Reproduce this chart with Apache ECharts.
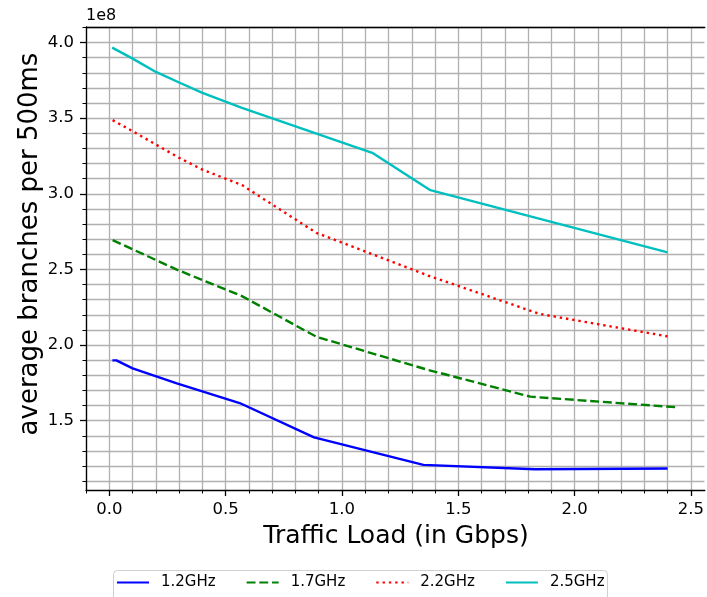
<!DOCTYPE html>
<html>
<head>
<meta charset="utf-8">
<script src="https://cdn.jsdelivr.net/npm/echarts@6/dist/echarts.min.js"></script>
<style>
html,body{margin:0;padding:0;background:#fff;overflow:hidden;}
#chart{width:707px;height:597px;}
</style>
</head>
<body>
<div id="chart"></div>
<script>
// values in units of 1e8 branches per 500ms
const seriesNames = ['1.2GHz', '1.7GHz', '2.2GHz', '2.5GHz'];
const x12 = [0.013, 0.03, 0.10, 0.29, 0.56, 0.88, 1.35, 1.83, 2.40];
const y12 = [1.899, 1.899, 1.846, 1.747, 1.617, 1.390, 1.208, 1.179, 1.184];
const x17 = [0.014, 0.29, 0.57, 0.89, 1.37, 1.81, 2.44];
const y17 = [2.694, 2.499, 2.324, 2.055, 1.836, 1.659, 1.589];
const x22 = [0.014, 0.10, 0.20, 0.30, 0.40, 0.57, 0.89, 1.37, 1.85, 2.41];
const y22 = [3.487, 3.414, 3.326, 3.238, 3.160, 3.058, 2.742, 2.460, 2.206, 2.055];
const x25 = [0.012, 0.10, 0.20, 0.30, 0.40, 0.57, 1.13, 1.38, 2.40];
const y25 = [3.967, 3.894, 3.806, 3.736, 3.667, 3.569, 3.271, 3.024, 2.613];
const xTicks = [0.0, 0.5, 1.0, 1.5, 2.0, 2.5];
const yTicks = [1.5, 2.0, 2.5, 3.0, 3.5, 4.0];

// minor grid positions every 0.1
const xMinor = [];
for (let i = -1; i <= 25; i++) xMinor.push(Math.round(i) / 10);
const yMinor = [];
for (let i = 11; i <= 41; i++) yMinor.push(Math.round(i) / 10);

const X_MIN = -0.1005, X_MAX = 2.56, Y_MIN = 1.042, Y_MAX = 4.103;
const FONT = 'DejaVu Sans';
const pairs = (xs, ys) => xs.map((v, i) => [v, ys[i]]);
const spine = { show: true, onZero: false, lineStyle: { color: '#000', width: 1.3 } };
const gridLine = { show: true, lineStyle: { color: '#b0b0b0', width: 1.3 } };

const chart = echarts.init(document.getElementById('chart'), null, { renderer: 'canvas' });
chart.setOption({
  animation: false,
  backgroundColor: '#fff',
  textStyle: { fontFamily: FONT },
  grid: { left: 86, right: 0, top: 27, bottom: 107, containLabel: false },
  graphic: [{
    type: 'text', left: 86, top: 8,
    style: { text: '1e8', font: '16px "DejaVu Sans"', fill: '#000' }
  }, {
    type: 'text', x: 30, y: 244, rotation: Math.PI / 2,
    style: { text: 'average branches per 500ms', font: '26px "DejaVu Sans"', fill: '#000',
      align: 'center', verticalAlign: 'middle' }
  }, {
    type: 'text', x: 396, y: 536,
    style: { text: 'Traffic Load (in Gbps)', font: '25px "DejaVu Sans"', fill: '#000',
      align: 'center', verticalAlign: 'middle' }
  }, {
    // the plot continues past the picture's right edge: no right-hand border line
    type: 'rect', left: 704.5, top: 28.5, z: 100, silent: true,
    shape: { width: 4, height: 460 },
    style: { fill: '#fff' }
  }, {
    type: 'rect', left: 111, top: 568, z: 1,
    shape: { width: 494, height: 40, r: 4 },
    style: { fill: 'none', stroke: '#d0d0d0', lineWidth: 1 }
  }],
  legend: {
    data: seriesNames,
    left: 111, top: 568,
    padding: [7, 5, 7, 5],
    itemWidth: 32, itemHeight: 14, itemGap: 30,
    itemStyle: { opacity: 0 },
    borderWidth: 0,
    textStyle: { fontFamily: FONT, fontSize: 15, color: '#000', padding: [0, 0, 0, 7] }
  },
  xAxis: [{
    type: 'value', position: 'bottom', min: X_MIN, max: X_MAX,
    axisLine: spine,
    axisTick: { show: true, length: 3.5, customValues: xMinor, lineStyle: { color: '#000', width: 1 } },
    axisLabel: { show: false },
    splitLine: gridLine
  }, {
    type: 'value', position: 'bottom', min: X_MIN, max: X_MAX,
    axisLine: { show: false, onZero: false },
    axisTick: { show: true, length: 6, customValues: xTicks, lineStyle: { color: '#000', width: 1.3 } },
    axisLabel: { customValues: xTicks, fontFamily: FONT, fontSize: 16.5, color: '#000', margin: 11,
      formatter: v => v.toFixed(1) },
    splitLine: { show: false }
  }, {
    type: 'value', position: 'top', min: X_MIN, max: X_MAX,
    axisLine: spine,
    axisTick: { show: false }, axisLabel: { show: false }, splitLine: { show: false }
  }],
  yAxis: [{
    type: 'value', position: 'left', min: Y_MIN, max: Y_MAX,
    axisLine: spine,
    axisTick: { show: true, length: 3.5, customValues: yMinor, lineStyle: { color: '#000', width: 1 } },
    axisLabel: { show: false },
    splitLine: gridLine
  }, {
    type: 'value', position: 'left', min: Y_MIN, max: Y_MAX,
    axisLine: { show: false, onZero: false },
    axisTick: { show: true, length: 6, customValues: yTicks, lineStyle: { color: '#000', width: 1.3 } },
    axisLabel: { customValues: yTicks, fontFamily: FONT, fontSize: 16.5, color: '#000', margin: 12,
      formatter: v => v.toFixed(1) },
    splitLine: { show: false }
  }],
  series: [
    { name: seriesNames[0], type: 'line', data: pairs(x12, y12), symbol: 'none', silent: true,
      itemStyle: { color: '#0000ff' }, lineStyle: { color: '#0000ff', width: 2.4, type: 'solid' } },
    { name: seriesNames[1], type: 'line', data: pairs(x17, y17), symbol: 'none', silent: true,
      itemStyle: { color: '#008000' }, lineStyle: { color: '#008000', width: 2.4, type: [8.9, 3.8] } },
    { name: seriesNames[2], type: 'line', data: pairs(x22, y22), symbol: 'none', silent: true,
      itemStyle: { color: '#ff0000' }, lineStyle: { color: '#ff0000', width: 2.4, type: [2.4, 3.9] } },
    { name: seriesNames[3], type: 'line', data: pairs(x25, y25), symbol: 'none', silent: true,
      itemStyle: { color: '#00bfbf' }, lineStyle: { color: '#00bfbf', width: 2.4, type: 'solid' } }
  ]
});
</script>
</body>
</html>
